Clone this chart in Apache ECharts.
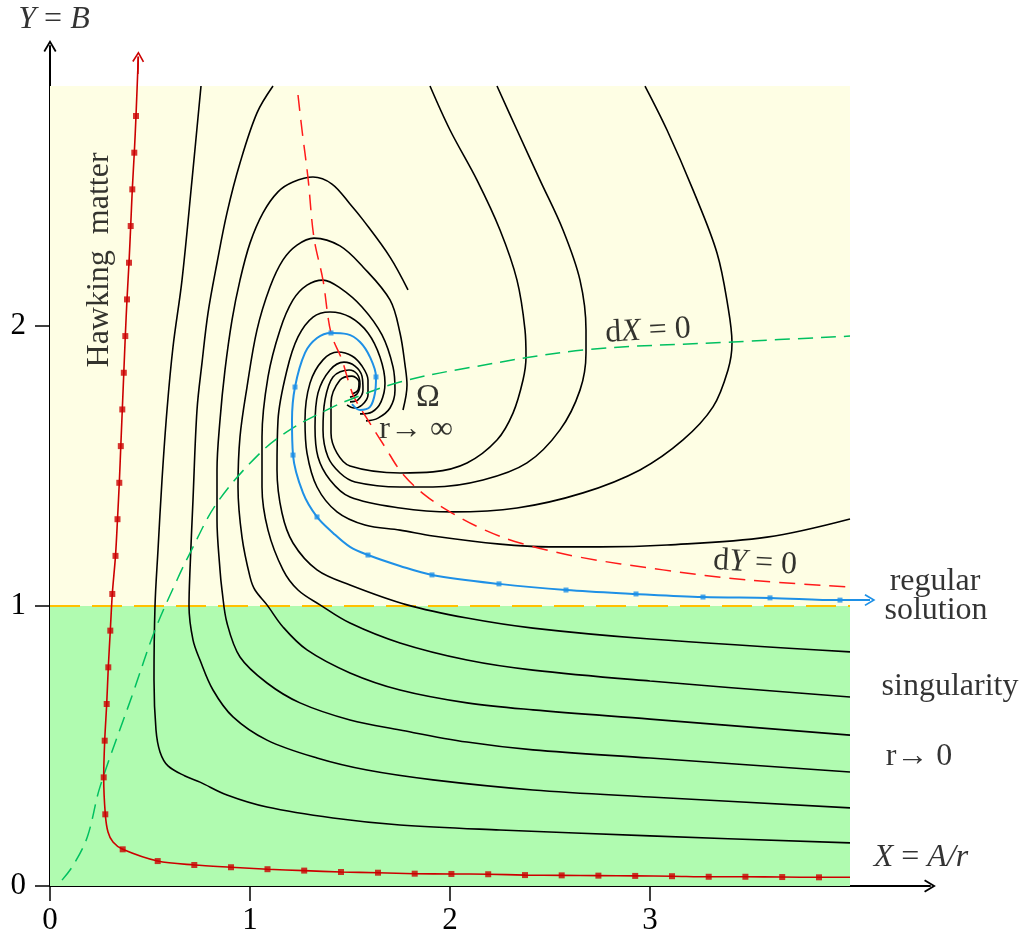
<!DOCTYPE html>
<html><head><meta charset="utf-8">
<script src="https://cdn.jsdelivr.net/npm/echarts@6/dist/echarts.min.js"></script>
<style>html,body{margin:0;padding:0;background:#fff}#c{width:1025px;height:937px}</style>
</head><body><div id="c"></div>
<script>
// ---- data (X = A/r, Y = B) ----
const xTicks = [0, 1, 2, 3];
const yTicks = [0, 1, 2];
const regionX = [0, 4];
const regionY = [0, 1, 2.857];
const horizonLine = [[0, 1], [4, 1]];

const curve1 = [[0.755,2.857],[0.71,2.521],[0.66,2.164],[0.615,1.925],[0.585,1.7],[0.56,1.45],[0.54,1.2],[0.525,1.0],[0.52,0.736],[0.53,0.557],[0.55,0.479],[0.59,0.429],[0.675,0.393],[0.75,0.371],[0.885,0.325],[1.085,0.282],[1.415,0.243],[1.75,0.218],[2.25,0.2],[3.0,0.179],[4.0,0.154]];
const curve2 = [[1.115,2.857],[1.035,2.761],[0.95,2.582],[0.885,2.404],[0.835,2.225],[0.79,2.046],[0.76,1.868],[0.735,1.7],[0.715,1.379],[0.7,1.129],[0.695,1.0],[0.715,0.879],[0.75,0.807],[0.815,0.7],[0.915,0.604],[1.085,0.521],[1.335,0.457],[1.585,0.414],[1.915,0.379],[2.415,0.343],[3.0,0.318],[4.0,0.279]];
const curve3 = [[1.79,2.129],[1.7,2.246],[1.565,2.379],[1.5,2.436],[1.41,2.507],[1.315,2.532],[1.215,2.514],[1.14,2.479],[1.065,2.404],[1.0,2.296],[0.95,2.164],[0.91,2.021],[0.875,1.843],[0.85,1.664],[0.835,1.486],[0.835,1.307],[0.85,1.129],[0.86,1.057],[0.885,0.939],[0.95,0.818],[1.085,0.725],[1.25,0.654],[1.5,0.593],[1.75,0.557],[2.085,0.514],[2.415,0.486],[3.0,0.457],[4.0,0.407]];
const curve4 = [[1.765,1.7],[1.785,1.789],[1.775,1.861],[1.75,1.975],[1.7,2.093],[1.565,2.211],[1.45,2.286],[1.32,2.314],[1.235,2.289],[1.165,2.236],[1.1,2.139],[1.035,1.986],[0.985,1.782],[0.95,1.604],[0.94,1.425],[0.96,1.246],[1.0,1.104],[1.025,1.057],[1.085,1.004],[1.165,0.925],[1.285,0.843],[1.5,0.761],[1.75,0.7],[2.085,0.654],[2.415,0.629],[3.0,0.596],[4.0,0.539]];
const curve5 = [[1.58,1.661],[1.64,1.671],[1.7,1.707],[1.725,1.771],[1.715,1.854],[1.66,1.968],[1.56,2.068],[1.45,2.136],[1.365,2.164],[1.285,2.146],[1.215,2.093],[1.15,1.986],[1.09,1.818],[1.06,1.604],[1.06,1.425],[1.09,1.271],[1.165,1.129],[1.24,1.057],[1.35,1.004],[1.5,0.939],[1.75,0.868],[2.085,0.807],[2.415,0.771],[3.0,0.732],[4.0,0.675]];
const curve6 = [[1.55,1.686],[1.61,1.693],[1.655,1.729],[1.675,1.796],[1.65,1.889],[1.59,1.975],[1.5,2.032],[1.4,2.05],[1.315,2.032],[1.24,1.961],[1.185,1.843],[1.14,1.664],[1.135,1.486],[1.16,1.332],[1.215,1.225],[1.335,1.129],[1.5,1.075],[1.785,1.004],[2.085,0.957],[2.415,0.921],[3.0,0.882],[4.0,0.836]];
const curveD = [[1.485,1.718],[1.52,1.707],[1.56,1.718],[1.59,1.754],[1.59,1.807],[1.56,1.857],[1.51,1.893],[1.44,1.907],[1.365,1.879],[1.3,1.796],[1.275,1.664],[1.285,1.546],[1.335,1.425],[1.435,1.336],[1.575,1.289],[1.75,1.271],[1.915,1.25],[2.25,1.221],[2.495,1.211],[2.75,1.211],[3.085,1.218],[3.585,1.246],[4.0,1.311]];
const curveC = [[1.5,1.729],[1.54,1.736],[1.565,1.771],[1.56,1.821],[1.525,1.857],[1.47,1.871],[1.4,1.843],[1.34,1.761],[1.325,1.639],[1.34,1.532],[1.4,1.45],[1.5,1.389],[1.75,1.35],[2.01,1.336],[2.335,1.35],[2.665,1.404],[2.95,1.486],[3.165,1.593],[3.315,1.711],[3.39,1.843],[3.41,1.939],[3.39,2.068],[3.335,2.261],[3.215,2.486],[3.085,2.7],[2.975,2.857]];
const curveB = [[1.5,1.746],[1.535,1.757],[1.55,1.793],[1.535,1.829],[1.495,1.843],[1.415,1.818],[1.375,1.736],[1.365,1.629],[1.39,1.532],[1.45,1.475],[1.525,1.443],[1.75,1.425],[1.915,1.425],[2.165,1.45],[2.385,1.511],[2.55,1.629],[2.65,1.771],[2.68,1.904],[2.68,1.986],[2.65,2.164],[2.565,2.343],[2.45,2.521],[2.335,2.7],[2.235,2.857]];
const curveA = [[1.51,1.757],[1.54,1.771],[1.545,1.8],[1.51,1.821],[1.45,1.807],[1.405,1.725],[1.405,1.618],[1.435,1.546],[1.5,1.5],[1.75,1.475],[1.915,1.479],[2.085,1.511],[2.235,1.593],[2.315,1.689],[2.365,1.807],[2.38,1.889],[2.375,1.986],[2.335,2.164],[2.25,2.343],[2.135,2.521],[2.0,2.7],[1.9,2.857]];

const dYzero = [[1.24,2.825],[1.26,2.7],[1.29,2.529],[1.32,2.314],[1.365,2.164],[1.405,1.975],[1.46,1.879],[1.495,1.796],[1.52,1.746],[1.59,1.664],[1.675,1.568],[1.76,1.475],[1.875,1.396],[2.01,1.332],[2.175,1.271],[2.35,1.225],[2.645,1.175],[3.065,1.129],[3.485,1.093],[4.0,1.068]];
const dXzero = [[0.06,0.021],[0.117,0.075],[0.187,0.176],[0.25,0.354],[0.415,0.689],[0.525,0.914],[0.635,1.093],[0.7,1.189],[0.835,1.368],[1.05,1.546],[1.215,1.636],[1.415,1.711],[1.52,1.743],[1.75,1.8],[2.085,1.85],[2.665,1.914],[3.415,1.943],[4.0,1.964]];

const regularLine = [[1.51,1.721],[1.55,1.7],[1.6,1.711],[1.625,1.761],[1.63,1.818],[1.6,1.889],[1.55,1.943],[1.485,1.971],[1.405,1.975],[1.335,1.957],[1.275,1.904],[1.225,1.782],[1.21,1.664],[1.215,1.539],[1.265,1.404],[1.335,1.318],[1.415,1.261],[1.5,1.211],[1.59,1.182],[1.75,1.143],[1.91,1.111],[2.245,1.079],[2.58,1.057],[2.93,1.043],[3.265,1.032],[3.6,1.029],[3.95,1.021],[4.08,1.021]];
const regularMarks = [[1.63,1.818],[1.405,1.975],[1.225,1.782],[1.215,1.539],[1.335,1.318],[1.59,1.182],[1.91,1.111],[2.245,1.079],[2.58,1.057],[2.93,1.043],[3.265,1.032],[3.6,1.029],[3.95,1.021]];
const regularArrow = [[4.04,1.021],[4.1,1.021]];

const hawkingMarks = [[0.43,2.75],[0.4215,2.619],[0.4115,2.488],[0.4035,2.357],[0.395,2.226],[0.385,2.095],[0.3765,1.964],[0.369,1.833],[0.3615,1.702],[0.354,1.571],[0.3465,1.44],[0.3375,1.31],[0.3275,1.179],[0.3115,1.043],[0.3015,0.912],[0.2915,0.781],[0.2835,0.65],[0.2735,0.519],[0.2685,0.388],[0.2765,0.256],[0.3635,0.131],[0.5385,0.089],[0.7215,0.075],[0.905,0.067],[1.0875,0.06],[1.271,0.055],[1.455,0.05],[1.64,0.0475],[1.8235,0.044],[2.007,0.043],[2.191,0.042],[2.375,0.039],[2.5585,0.038],[2.742,0.037],[2.926,0.036],[3.11,0.035],[3.2935,0.033],[3.477,0.033],[3.661,0.032],[3.845,0.031]];
const hawkingLine = [[0.4415,2.962],[0.43,2.75],[0.4215,2.619],[0.4115,2.488],[0.4035,2.357],[0.395,2.226],[0.385,2.095],[0.3765,1.964],[0.369,1.833],[0.3615,1.702],[0.354,1.571],[0.3465,1.44],[0.3375,1.31],[0.3275,1.179],[0.3115,1.043],[0.3015,0.912],[0.2915,0.781],[0.2835,0.65],[0.2735,0.519],[0.2685,0.388],[0.2765,0.256],[0.29,0.193],[0.315,0.157],[0.3635,0.131],[0.5385,0.089],[0.7215,0.075],[0.905,0.067],[1.0875,0.06],[1.271,0.055],[1.455,0.05],[1.64,0.0475],[1.8235,0.044],[2.007,0.043],[2.191,0.042],[2.375,0.039],[2.5585,0.038],[2.742,0.037],[2.926,0.036],[3.11,0.035],[3.2935,0.033],[3.477,0.033],[3.661,0.032],[3.845,0.031],[4.0,0.031]];
const hawkingArrow = [[0.439,2.9],[0.4415,2.962]];

const labelTexts = ['Hawking  matter','d{i|X} = 0','Ω','r→ ∞','d{i|Y} = 0','regular','solution','singularity','r→ 0','{i|X} = {i|A/r}','{i|Y} = {i|B}'];
const labelPos = [[0.25,2.236],[2.99,1.982],[1.89,1.746],[1.83,1.629],[3.525,1.154],[4.425,1.086],[4.43,0.982],[4.5,0.711],[4.345,0.461],[4.355,0.1],[0.02,3.093]];
const labelRotate = [90,3,0,0,-3,0,0,0,0,0,0];

// ---- chart ----
const FONT = "'Liberation Serif', 'Times New Roman', serif";
const chevron = 'path://M6,0 L12,10 L10.6,10.9 L6,3.2 L1.4,10.9 L0,10 Z';
const chart = echarts.init(document.getElementById('c'), null, {renderer:'canvas'});

const blackCurves = [curve1, curve2, curve3, curve4, curve5, curve6, curveD, curveC, curveB, curveA];
const series = [];

series.push({
  type:'line', data:[[0,0]], showSymbol:false, lineStyle:{opacity:0}, silent:true, z:0,
  markArea:{silent:true, data:[
    [{coord:[regionX[0],regionY[1]], itemStyle:{color:'#fefee4'}},{coord:[regionX[1],regionY[2]]}],
    [{coord:[regionX[0],regionY[0]], itemStyle:{color:'#b0fbb0'}},{coord:[regionX[1],regionY[1]]}]
  ]}
});
series.push({type:'line', data:horizonLine, showSymbol:false, silent:true, z:1,
  lineStyle:{color:'#ffc000', width:2, type:[30,12]}});
blackCurves.forEach(c => series.push({
  type:'line', data:c, smooth:0.35, showSymbol:false, silent:true, z:2,
  lineStyle:{color:'#000', width:1.6}
}));
series.push({type:'line', data:dYzero, smooth:0.35, showSymbol:false, silent:true, z:3,
  lineStyle:{color:'#ff1a1a', width:1.5, type:[16,9]}});
series.push({type:'line', data:dXzero, smooth:0.35, showSymbol:false, silent:true, z:3,
  lineStyle:{color:'#00c060', width:1.5, type:[15,8]}});
series.push({type:'line', data:regularLine, smooth:0.35, showSymbol:false, silent:true, z:4,
  lineStyle:{color:'#1e90e6', width:2},
  markLine:{silent:true, symbol:['none', chevron], symbolSize:[12,11], label:{show:false},
    lineStyle:{color:'#1e90e6', width:2, type:'solid'},
    data:[[{coord:regularArrow[0]},{coord:regularArrow[1]}]]}});
series.push({type:'scatter', data:regularMarks, symbol:'rect', symbolSize:5, silent:true, z:5,
  itemStyle:{color:'#1e90e6'}});
series.push({type:'line', data:hawkingLine, smooth:0.3, showSymbol:false, silent:true, z:4,
  lineStyle:{color:'#cc0000', width:1.6},
  markLine:{silent:true, symbol:['none', chevron], symbolSize:[12,11], label:{show:false},
    lineStyle:{color:'#cc0000', width:1.6, type:'solid'},
    data:[[{coord:hawkingArrow[0]},{coord:hawkingArrow[1]}]]}});
series.push({type:'scatter', data:hawkingMarks, symbol:'rect', symbolSize:6, silent:true, z:5,
  itemStyle:{color:'#cc0000'}});
series.push({type:'scatter', silent:true, z:6, clip:false, symbol:'circle', symbolSize:0.1,
  itemStyle:{color:'rgba(0,0,0,0)'},
  label:{show:true, position:'inside', color:'#000', fontFamily:FONT, fontSize:32,
    rich:{i:{fontStyle:'italic', fontFamily:FONT, fontSize:32, color:'#000'}}},
  data: labelPos.map((p,i)=>({value:p, label:{rotate:labelRotate[i], formatter:labelTexts[i]}}))
});

chart.setOption({
  animation:false,
  backgroundColor:'#ffffff',
  grid:{left:50, right:95, top:46, bottom:51, containLabel:false},
  xAxis:{type:'value', min:0, max:4.4, interval:1,
    axisLine:{show:true, onZero:false, symbol:['none', chevron], symbolSize:[13,12], lineStyle:{color:'#000', width:2}},
    axisTick:{show:true, length:15, customValues:xTicks, lineStyle:{color:'#000', width:1.5}},
    axisLabel:{customValues:xTicks, fontFamily:FONT, fontSize:31, color:'#000', margin:19},
    splitLine:{show:false}},
  yAxis:{type:'value', min:0, max:3, interval:1,
    axisLine:{show:true, onZero:false, symbol:['none', chevron], symbolSize:[13,12], lineStyle:{color:'#000', width:2}},
    axisTick:{show:true, length:15, customValues:yTicks, lineStyle:{color:'#000', width:1.5}},
    axisLabel:{customValues:yTicks, fontFamily:FONT, fontSize:31, color:'#000', margin:24},
    splitLine:{show:false}},
  series
});
</script>
</body></html>
